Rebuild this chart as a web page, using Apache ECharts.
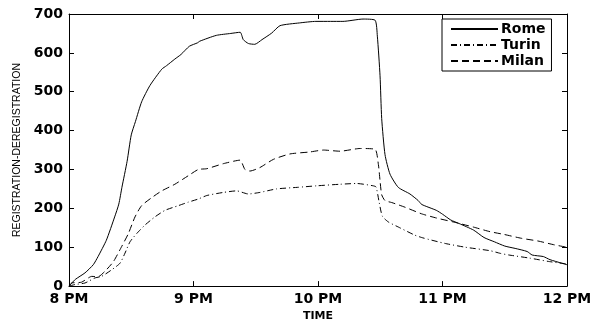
<!DOCTYPE html>
<html>
<head>
<meta charset="utf-8">
<script src="https://cdn.jsdelivr.net/npm/echarts@6/dist/echarts.min.js"></script>
<style>
  html, body { margin: 0; padding: 0; background: #fff; }
</style>
</head>
<body>
<div id="main" style="width: 601px; height: 327px;"></div>
<script>
// x = minutes after 8 PM, y = registrations minus deregistrations
var timeLabels = ['8 PM', '9 PM', '10 PM', '11 PM', '12 PM']

var romeData = [
  [0, 0], [3, 17], [7.7, 34], [11.7, 55], [14, 76], [18, 118], [22, 178], [24, 211],
  [25.5, 254], [28, 321], [30, 389], [32, 423], [35, 474], [39, 516], [44.7, 558],
  [47, 567], [51, 584], [54, 596], [58, 617], [62, 626], [63, 630], [71, 645], [78, 650],
  [82.5, 653], [84, 634], [86.5, 624], [89.5, 622], [93, 634], [97.7, 651], [101.7, 670],
  [111, 677], [119, 681], [126, 681], [132, 681], [141.7, 687], [147.5, 684], [148.6, 643],
  [149.9, 541], [150.7, 431], [152.3, 338], [154.7, 288], [158.7, 254], [164.3, 237],
  [168.3, 220], [170, 210], [177, 195], [180, 185], [184, 170], [188, 161], [195, 144],
  [200, 125], [205, 114], [210, 103], [215, 97], [220.8, 89], [223.2, 80], [228.6, 76],
  [231.8, 68], [237.4, 59], [240, 55]
]

var turinData = [
  [0, 0], [2.9, 4], [7.7, 8], [12.5, 21], [15.7, 25], [20.6, 42], [24.6, 59], [27, 85],
  [29.4, 114], [32.6, 135], [36.6, 157], [41.4, 178], [46.3, 195], [52.7, 207], [57.5, 216],
  [62.3, 224], [66.4, 233], [74.4, 241], [80.8, 245], [86.4, 237], [92, 241], [100, 250],
  [110, 254], [119.4, 258], [130.6, 262], [138.6, 264], [146.6, 258], [148, 255],
  [149.5, 215], [151, 180], [153.9, 165], [158.7, 152], [166.7, 131], [170.6, 124],
  [181, 110], [191, 100], [203, 91], [208, 84], [212, 80], [222, 72], [231.6, 63], [240, 57]
]

var milanData = [
  [0, 0], [1.3, 8], [6, 10], [11, 25], [14, 24], [17.3, 38], [21.4, 63], [25.4, 102],
  [28.6, 135], [31.8, 178], [35, 207], [40, 228], [44.7, 245], [51, 262], [57.5, 284],
  [62.3, 300], [66.4, 302], [74.4, 315], [82.4, 324], [84.8, 300], [87.2, 296], [92, 305],
  [98.5, 326], [106.5, 340], [116, 345], [122.6, 350], [130.6, 347], [140.2, 354],
  [147.5, 352], [149.1, 313], [149.9, 271], [150.7, 235], [152.3, 220], [155.5, 215],
  [161.9, 203], [169.9, 186], [177.2, 175], [185.2, 165], [194.8, 152], [202.9, 140],
  [209.6, 133], [218, 123], [226, 116], [234, 106], [240, 100]
]

var font = 'DejaVu Sans'
var myChart = echarts.init(document.getElementById('main'))

function frameAxis (pos, isX) {
  return {
    type: 'value',
    position: pos,
    min: 0,
    max: isX ? 240 : 700,
    interval: isX ? 60 : 100,
    axisLine: { show: true, onZero: false, lineStyle: { color: '#000', width: 1 } },
    axisTick: { show: true, inside: true, length: 5, lineStyle: { color: '#000' } },
    axisLabel: { show: false },
    splitLine: { show: false }
  }
}

var xBottom = frameAxis('bottom', true)
xBottom.axisLabel = {
  show: true,
  margin: 6,
  color: '#000',
  fontFamily: font,
  fontWeight: 'bold',
  fontSize: 14,
  formatter: function (v) { return timeLabels[v / 60] }
}
xBottom.name = 'TIME'
xBottom.nameLocation = 'middle'
xBottom.nameGap = 20
xBottom.nameTextStyle = { color: '#000', fontFamily: font, fontWeight: 'bold', fontSize: 11 }

var yLeft = frameAxis('left', false)
yLeft.axisLabel = {
  show: true,
  margin: 6,
  color: '#000',
  fontFamily: font,
  fontWeight: 'bold',
  fontSize: 14
}
yLeft.name = 'REGISTRATION-DEREGISTRATION'
yLeft.nameLocation = 'middle'
yLeft.nameGap = 44
yLeft.nameTextStyle = { color: '#000', fontFamily: 'Liberation Sans', fontSize: 10.5 }

function lineSeries (name, data, type) {
  return {
    name: name,
    type: 'line',
    xAxisIndex: 0,
    yAxisIndex: 0,
    symbol: 'none',
    smooth: 0.2,
    lineStyle: { color: '#000', width: 1, type: type },
    itemStyle: { color: '#000' },
    data: data
  }
}

myChart.setOption({
  animation: false,
  backgroundColor: '#fff',
  grid: { left: 69, right: 34, top: 14, bottom: 37 },
  legend: {
    left: 442,
    top: 19,
    orient: 'vertical',
    padding: [3, 6, 3, 8],
    itemGap: 2,
    itemWidth: 47,
    itemHeight: 14,
    borderColor: '#000',
    borderWidth: 1,
    backgroundColor: '#fff',
    itemStyle: { color: 'transparent', borderWidth: 0 }, // 去掉图例上的小圆点
    textStyle: { color: '#000', fontFamily: font, fontWeight: 'bold', fontSize: 14, padding: [0, 0, 0, -2] },
    data: ['Rome', 'Turin', 'Milan']
  },
  xAxis: [xBottom, frameAxis('top', true)],
  yAxis: [yLeft, frameAxis('right', false)],
  series: [
    lineSeries('Rome', romeData, 'solid'),
    lineSeries('Turin', turinData, [6, 3, 1, 3]),
    lineSeries('Milan', milanData, [7, 4])
  ]
})
</script>
</body>
</html>
